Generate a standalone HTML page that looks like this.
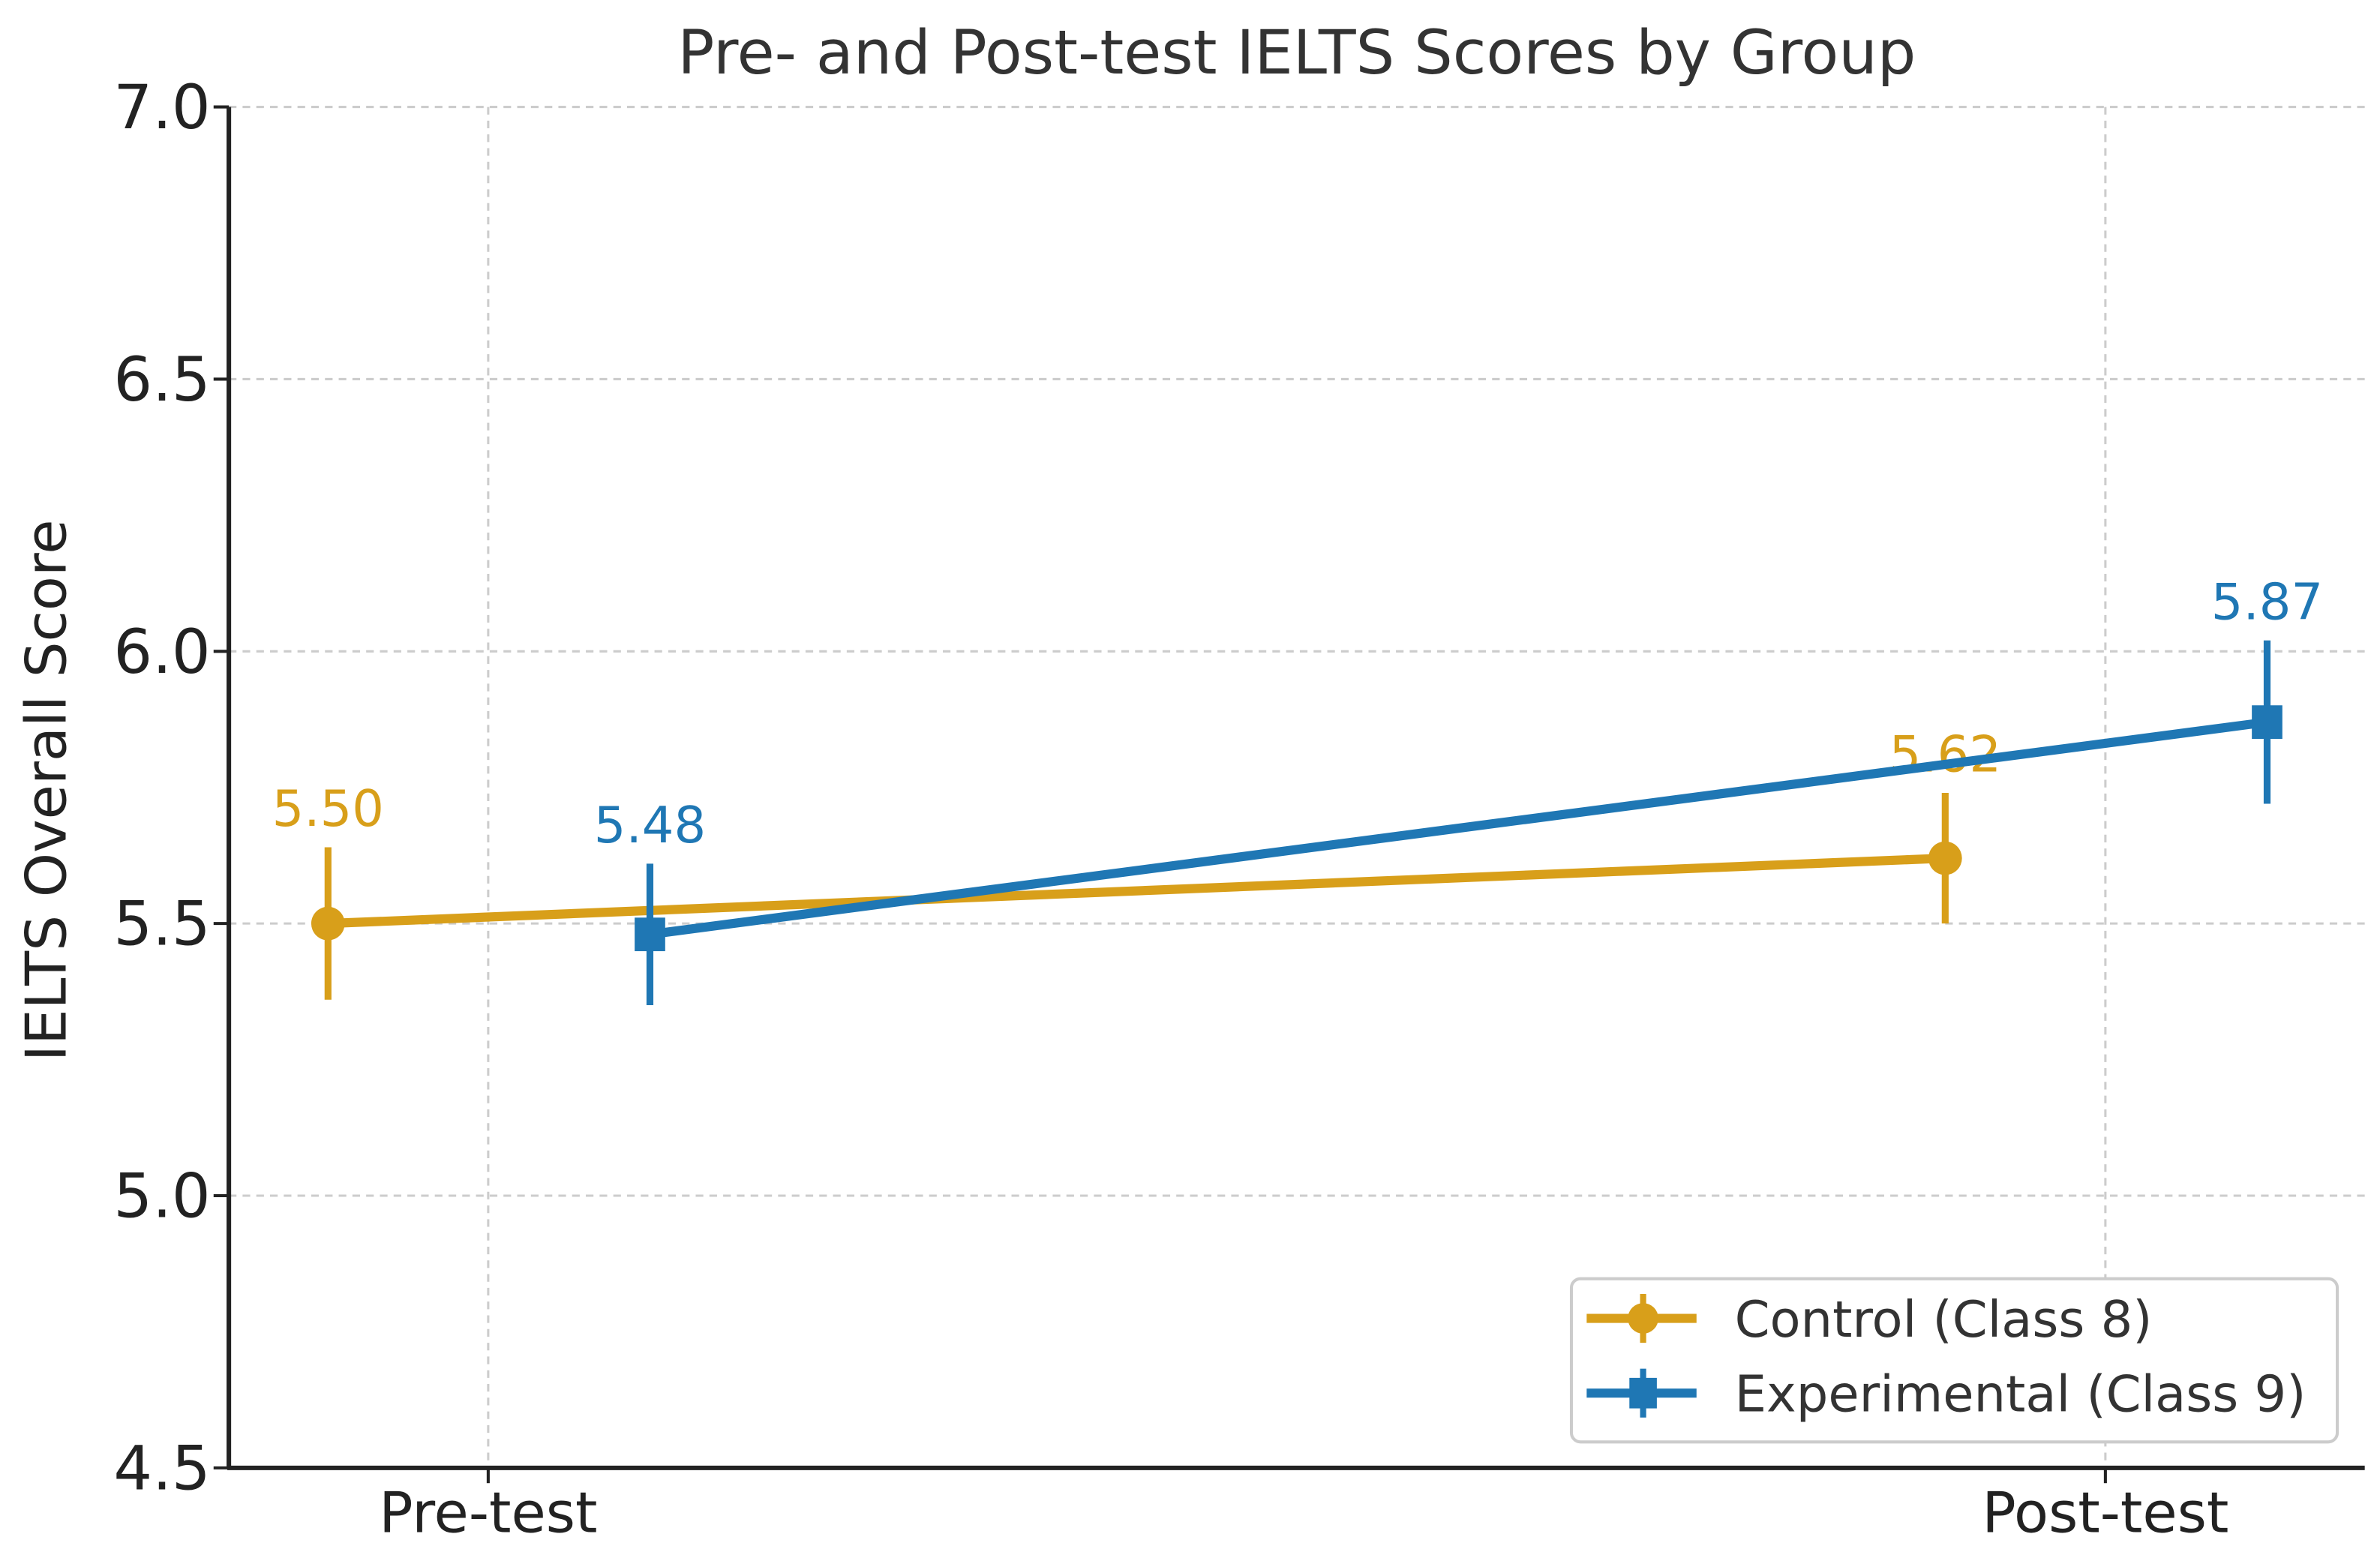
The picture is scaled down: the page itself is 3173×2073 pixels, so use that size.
<!DOCTYPE html>
<html><head><meta charset="utf-8"><style>
html,body{margin:0;padding:0;background:#fff;}
svg{display:block;font-family:"DejaVu Sans","Liberation Sans",sans-serif;}
</style></head><body>
<svg id="chart" width="3173" height="2073" viewBox="0 0 1560 1019" xmlns="http://www.w3.org/2000/svg">
<text x="850" y="48" font-size="40" fill="#333" text-anchor="middle">Pre- and Post-test IELTS Scores by Group</text>
<text transform="translate(43,518) rotate(-90)" font-size="37" fill="#222" text-anchor="middle">IELTS Overall Score</text>
<g id="grid"></g>
<g id="axes"></g>
<g id="series"></g>
<g>
<rect x="1030" y="838" width="502" height="107" rx="6" fill="#fff" stroke="#ccc" stroke-width="2"/>
<g>
<line x1="1040" y1="864" x2="1112" y2="864" stroke="#D89F1A" stroke-width="6"/>
<line x1="1077" y1="848" x2="1077" y2="880" stroke="#D89F1A" stroke-width="4"/>
<circle cx="1077" cy="864" r="10" fill="#D89F1A"/>
<text x="1137" y="876" font-size="33" fill="#333">Control (Class 8)</text></g>
<g>
<line x1="1040" y1="913" x2="1112" y2="913" stroke="#1F77B4" stroke-width="6"/>
<line x1="1077" y1="897" x2="1077" y2="929" stroke="#1F77B4" stroke-width="4"/>
<rect x="1068" y="903" width="18" height="20" fill="#1F77B4"/>
<text x="1137" y="925" font-size="33" fill="#333">Experimental (Class 9)</text></g>
</g>
</svg>
<script>
const categories = ["Pre-test", "Post-test"];
const seriesNames = ["Control (Class 8)", "Experimental (Class 9)"];
const controlMeans = [5.50, 5.62];
const controlErr = [0.14, 0.12];
const expMeans = [5.48, 5.87];
const expErr = [0.13, 0.15];
const yTicks = [4.5, 5.0, 5.5, 6.0, 6.5, 7.0];
const yTickLabels = ["4.5", "5.0", "5.5", "6.0", "6.5", "7.0"];

const NS = "http://www.w3.org/2000/svg";
const L = 150, R = 1550, T = 70, B = 962;
const yMin = 4.5, yMax = 7.0;
function yScale(v){ return B - (v - yMin) / (yMax - yMin) * (B - T); }
function xScale(i){ return 320 + i * 1060; }
function mk(tag, attrs, parent){ const e = document.createElementNS(NS, tag); for (const k in attrs) e.setAttribute(k, attrs[k]); parent.appendChild(e); return e; }

const grid = document.getElementById('grid');
const axes = document.getElementById('axes');
const series = document.getElementById('series');

yTicks.forEach((t, i) => {
  const y = yScale(t);
  const g = mk('line', {x1: L, x2: R, y1: y, y2: y, stroke: '#ccc', 'stroke-width': 1.5, 'stroke-dasharray': '5,4'}, grid);
  
  
  mk('line', {x1: L - 10, x2: L, y1: y, y2: y, stroke: '#222', 'stroke-width': 2}, axes);
  const tx = mk('text', {x: L - 12, y: y + 14, 'font-size': 40, 'text-anchor': 'end', fill: '#222'}, axes);
  tx.textContent = yTickLabels[i];
  
  
});
categories.forEach((c, i) => {
  const x = xScale(i);
  const g = mk('line', {x1: x, x2: x, y1: T, y2: B, stroke: '#ccc', 'stroke-width': 1.5, 'stroke-dasharray': '5,4'}, grid);
  
  
  mk('line', {x1: x, x2: x, y1: B, y2: B + 10, stroke: '#222', 'stroke-width': 2}, axes);
  const tx = mk('text', {x: x, y: B + 42, 'font-size': 37, 'text-anchor': 'middle', fill: '#222'}, axes);
  tx.textContent = c;
  
  
});
mk('line', {x1: L, x2: L, y1: T, y2: B + 1, stroke: '#222', 'stroke-width': 3}, axes);
mk('line', {x1: L - 1, x2: R, y1: B, y2: B, stroke: '#222', 'stroke-width': 3}, axes);

function drawSeries(means, errs, color, offset, marker, name){
  const g = mk('g', {}, series);
  
  
  const pts = means.map((m, i) => [xScale(i) + offset, yScale(m)]);
  const pl = mk('polyline', {points: pts.map(p => p.join(',')).join(' '), fill: 'none', stroke: color, 'stroke-width': 6}, g);
  
  
  means.forEach((m, i) => {
    const x = pts[i][0], y = pts[i][1];
    const eb = mk('line', {x1: x, x2: x, y1: yScale(m - errs[i]), y2: yScale(m + errs[i]), stroke: color, 'stroke-width': 4.5}, g);
    
    
    let pt;
    if (marker === 'circle') pt = mk('circle', {cx: x, cy: y, r: 11, fill: color}, g);
    else pt = mk('rect', {x: x - 10, y: y - 11, width: 20, height: 22, fill: color}, g);
    
    
    const lb = mk('text', {x: x, y: yScale(m + errs[i]) - 14, 'font-size': 33, 'text-anchor': 'middle', fill: color}, g);
    lb.textContent = m.toFixed(2);
    
    
  });
}
drawSeries(controlMeans, controlErr, '#D89F1A', -105, 'circle', 'control-series');
drawSeries(expMeans, expErr, '#1F77B4', 106, 'square', 'experimental-series');
</script>
</body></html>
